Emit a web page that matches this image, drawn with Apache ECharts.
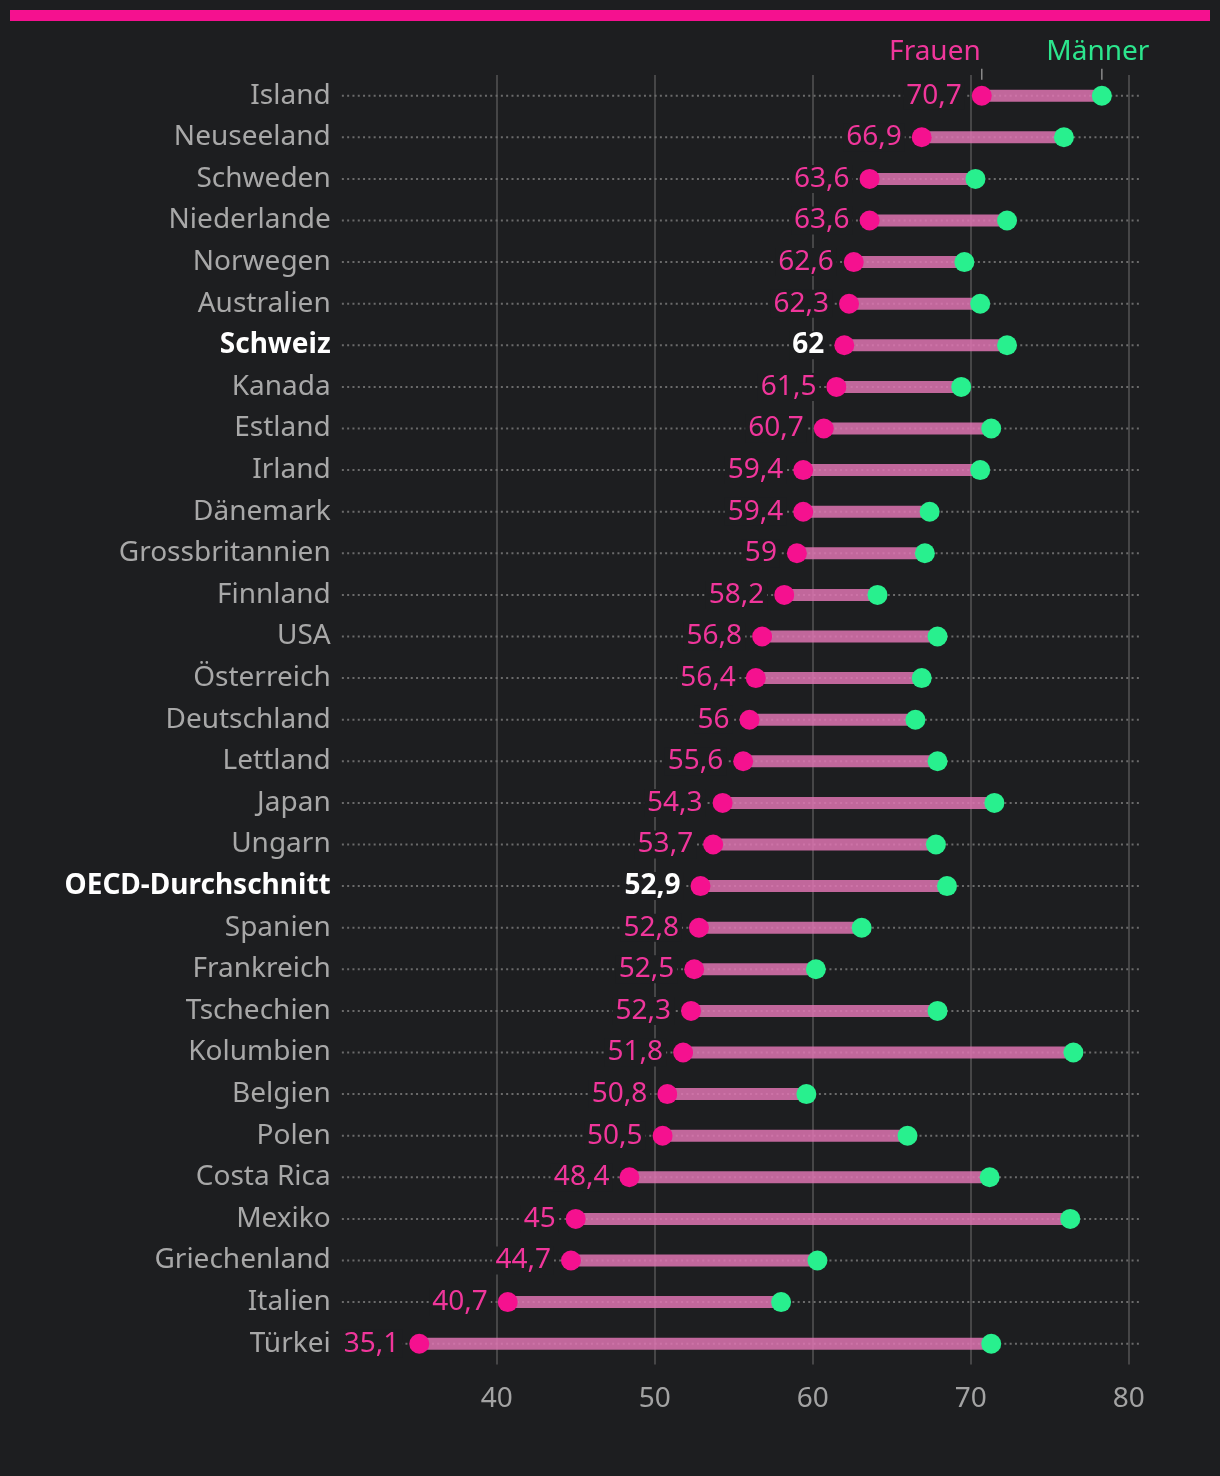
<!DOCTYPE html>
<html>
<head>
<meta charset="utf-8">
<script src="https://cdn.jsdelivr.net/npm/echarts@6/dist/echarts.min.js"></script>
<style>
html,body{margin:0;padding:0;background:#1d1e20;}
#chart{width:1220px;height:1476px;}
</style>
</head>
<body>
<div id="chart"></div>
<script>
const countries = ['Island','Neuseeland','Schweden','Niederlande','Norwegen','Australien','Schweiz','Kanada','Estland','Irland','Dänemark','Grossbritannien','Finnland','USA','Österreich','Deutschland','Lettland','Japan','Ungarn','OECD-Durchschnitt','Spanien','Frankreich','Tschechien','Kolumbien','Belgien','Polen','Costa Rica','Mexiko','Griechenland','Italien','Türkei'];
const women = [70.7,66.9,63.6,63.6,62.6,62.3,62,61.5,60.7,59.4,59.4,59,58.2,56.8,56.4,56,55.6,54.3,53.7,52.9,52.8,52.5,52.3,51.8,50.8,50.5,48.4,45,44.7,40.7,35.1];
const men = [78.3,75.9,70.3,72.3,69.6,70.6,72.3,69.4,71.3,70.6,67.4,67.1,64.1,67.9,66.9,66.5,67.9,71.5,67.8,68.5,63.1,60.2,67.9,76.5,59.6,66.0,71.2,76.3,60.3,58.0,71.3];
const highlighted = ['Schweiz','OECD-Durchschnitt'];
const xTicks = [40,50,60,70,80];
const legendNames = ['Frauen','Männer'];

const BG = '#1d1e20';
const PINK = '#f5118f', GREEN = '#28f08e', PINK_TXT = '#f0369b', GREEN_TXT = '#2ce68d';
const FONT = '"Noto Sans", sans-serif';
const fmt = v => String(v).replace('.', ',');

const chart = echarts.init(document.getElementById('chart'), null, {renderer:'canvas'});

const rowData = countries.map((c, i) => [i, women[i], men[i]]);

const option = {
  backgroundColor: BG,
  animation: false,
  textStyle: {fontFamily: FONT},
  graphic: [{type:'rect', left:10, top:10, shape:{width:1200, height:11}, style:{fill:PINK}}],
  grid: {left: 338.7, right: 91.3, top: 74.9, bottom: 111.5},
  xAxis: {
    type:'value', min:30, max:80, interval:10,
    axisLine:{show:false}, axisTick:{show:false},
    axisLabel:{color:'#a3a3a3', fontSize:28, margin:21, fontFamily:FONT,
      formatter: v => xTicks.includes(v) ? String(v) : ''},
    splitLine:{show:true, lineStyle:{color:['transparent','#555','#555','#555','#555','#555'], width:1.5}}
  },
  yAxis: {
    type:'category', inverse:true, data: countries,
    axisLine:{show:false}, axisTick:{show:false}, splitLine:{show:false},
    axisLabel:{color:'#a8a8a8', fontSize:28, margin:8, fontFamily:FONT,
      formatter: v => highlighted.includes(v) ? '{b|' + v + '}' : v,
      rich:{b:{color:'#ffffff', fontWeight:'bold', fontSize:28, fontFamily:FONT}}}
  },
  series: [
    {
      type:'custom', clip:false, z:1,
      data: rowData,
      encode:{x:[1,2], y:0},
      renderItem: function(params, api) {
        const idx = api.value(0);
        const pw = api.coord([api.value(1), idx]);
        const pm = api.coord([api.value(2), idx]);
        const l = api.coord([30.2, idx]);
        const r = api.coord([80.7, idx]);
        const children = [
          {type:'line', shape:{x1:l[0], y1:l[1], x2:r[0], y2:r[1]}, style:{stroke:'#6b6b6b', lineWidth:2, lineDash:[2,3.3]}},
          {type:'line', shape:{x1:pw[0], y1:pw[1], x2:pm[0], y2:pm[1]}, style:{stroke:'rgba(222,116,178,0.85)', lineWidth:12}}
        ];
        if (params.dataIndex === 0) {
          children.push(
            {type:'line', shape:{x1:pw[0], y1:pw[1]-27, x2:pw[0], y2:pw[1]-16}, style:{stroke:'#8a8a8a', lineWidth:1.5}},
            {type:'line', shape:{x1:pm[0], y1:pm[1]-27, x2:pm[0], y2:pm[1]-16}, style:{stroke:'#8a8a8a', lineWidth:1.5}},
            {type:'text', style:{text:legendNames[0], x:pw[0]-1, y:pw[1]-44, fill:PINK_TXT, font:'28px ' + FONT, align:'right', verticalAlign:'middle'}},
            {type:'text', style:{text:legendNames[1], x:pm[0]-4, y:pm[1]-44, fill:GREEN_TXT, font:'28px ' + FONT, align:'center', verticalAlign:'middle'}}
          );
        }
        return {type:'group', children};
      }
    },
    {
      type:'scatter', z:3, symbolSize:20,
      itemStyle:{color:PINK, opacity:1},
      data: women.map((v, i) => {
        const d = {value:[v, i]};
        if (highlighted.includes(countries[i])) d.label = {color:'#ffffff', fontWeight:'bold'};
        return d;
      }),
      label:{show:true, position:'left', distance:7, color:PINK_TXT, fontSize:28, fontFamily:FONT,
        backgroundColor:BG, padding:[0,3],
        formatter: p => fmt(p.value[0])}
    },
    {
      type:'scatter', z:4, symbolSize:20,
      itemStyle:{color:GREEN, opacity:1},
      data: men.map((v, i) => [v, i])
    }
  ]
};
chart.setOption(option);
</script>
</body>
</html>
